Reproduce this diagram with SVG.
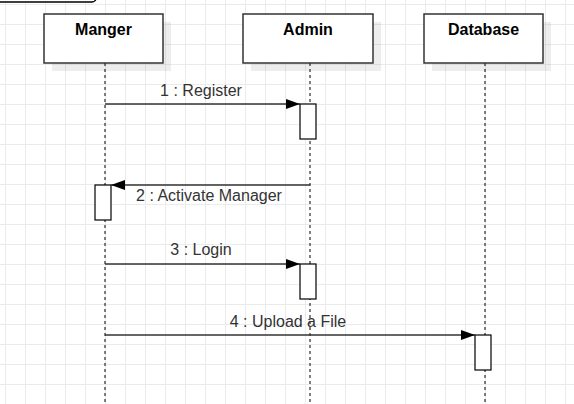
<svg xmlns="http://www.w3.org/2000/svg" width="574" height="404" viewBox="0 0 574 404">
  <defs>
    <pattern id="grid" x="5" y="4" width="20" height="20" patternUnits="userSpaceOnUse">
      <path d="M0 0.5 H20 M0.5 0 V20" fill="none" stroke="#ebebeb" stroke-width="1"/>
    </pattern>
    <marker id="arr" viewBox="0 0 14 10" refX="14" refY="5" markerWidth="14" markerHeight="10" markerUnits="userSpaceOnUse" orient="auto">
      <path d="M0 0 L14 5 L0 10 Z" fill="#000"/>
    </marker>
  </defs>
  <style>
    .shadow { fill: #000; fill-opacity: 0.07; }
    .box { fill: #fff; stroke: #333; stroke-width: 1.5; }
    .title { font-family: "Liberation Sans", Arial, sans-serif; font-size: 16px; font-weight: bold; fill: #000; text-anchor: middle; }
    .life { stroke: #000; stroke-width: 1; stroke-dasharray: 3 3; fill: none; }
    .act { fill: #fff; stroke: #000; stroke-width: 1.2; }
    .msg { stroke: #333; stroke-width: 1.5; fill: none; marker-end: url(#arr); }
    .lbl { font-family: "Liberation Sans", Arial, sans-serif; font-size: 16px; fill: #333; text-anchor: middle; }
  </style>
  <rect width="574" height="404" fill="#fff"/>
  <rect width="574" height="404" fill="url(#grid)"/>
  <rect x="-20" y="-40" width="116" height="42" rx="4" fill="#fff" stroke="#000" stroke-width="1.5"/>

  <g id="lifelines">
    <line class="life" x1="105" y1="63" x2="105" y2="404"/>
    <line class="life" x1="310" y1="63" x2="310" y2="404"/>
    <line class="life" x1="485" y1="63" x2="485" y2="404"/>
  </g>

  <g id="manger">
    <rect class="shadow" x="52" y="22" width="119" height="49"/>
    <rect class="box" x="44" y="14" width="119" height="49"/>
    <text class="title" x="103.5" y="35">Manger</text>
  </g>
  <g id="admin">
    <rect class="shadow" x="251" y="22" width="130" height="49"/>
    <rect class="box" x="243" y="14" width="130" height="49"/>
    <text class="title" x="308" y="35">Admin</text>
  </g>
  <g id="database">
    <rect class="shadow" x="432" y="22" width="119" height="49"/>
    <rect class="box" x="424" y="14" width="119" height="49"/>
    <text class="title" x="483.5" y="35">Database</text>
  </g>

  <g id="activations">
    <rect class="act" x="300" y="104" width="16" height="35"/>
    <rect class="act" x="95" y="185" width="16" height="35"/>
    <rect class="act" x="300" y="264" width="16" height="35"/>
    <rect class="act" x="475" y="335" width="16" height="35"/>
  </g>

  <g id="connectors">
    <line class="msg" x1="105" y1="104" x2="300" y2="104"/>
    <line class="msg" x1="310" y1="185" x2="111" y2="185"/>
    <line class="msg" x1="105" y1="264" x2="300" y2="264"/>
    <line class="msg" x1="105" y1="335" x2="475" y2="335"/>
    <text class="lbl" x="201" y="96">1 : Register</text>
    <text class="lbl" x="209" y="201">2 : Activate Manager</text>
    <text class="lbl" x="201" y="255">3 : Login</text>
    <text class="lbl" x="288" y="327">4 : Upload a File</text>
  </g>
</svg>
